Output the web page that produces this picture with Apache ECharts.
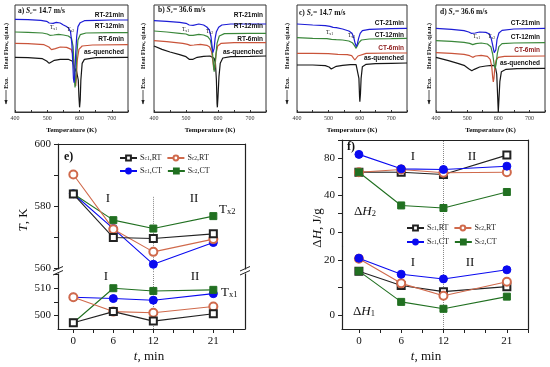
<!DOCTYPE html>
<html><head><meta charset="utf-8">
<script src="https://cdn.jsdelivr.net/npm/echarts@6/dist/echarts.min.js"></script>
<style>html,body{margin:0;padding:0;background:#fff}#c{width:550px;height:367px}</style>
</head><body><div id="c"></div>
<script>
// ---------------- DATA ----------------
// DSC curves: [Temperature K, heat flow (a.u., downward = exo offset scale)]
const a_RT21 = [[400,58],[440,59],[480,61],[498,64],[506,69],[511,72],[518,70],[528,67],[540,69],[550,75],[558,79],[566,84],[572,95],[576,130],[579,190],[581,235],[583,248],[585,225],[588,160],[591,110],[595,80],[602,68],[615,62],[650,61],[700,60],[750,60]];
const a_RT12 = [[400,96],[440,97],[485,99],[500,102],[508,106],[513,108],[520,105],[535,103],[550,105],[565,108],[575,115],[580,140],[583,200],[585,250],[586,262],[588,240],[591,170],[595,120],[602,104],[620,99],[700,98],[750,98]];
const a_RT6 = [[400,130],[440,131],[490,134],[505,141],[513,149],[518,150],[525,146],[540,141],[560,142],[574,148],[580,165],[584,210],[586,245],[588,258],[590,235],[593,180],[598,148],[608,138],[640,135],[750,134]];
const a_AQ = [[400,172],[440,173],[485,176],[498,183],[506,190],[512,188],[522,181],[540,178],[565,178],[578,184],[583,200],[586,215],[589,205],[593,200],[596,240],[598,290],[600,322],[602,300],[604,240],[608,190],[615,178],[650,173],[750,172]];

const b_RT21 = [[400,62],[440,64],[480,67],[500,70],[510,75],[515,78],[522,76],[540,72],[555,75],[565,81],[573,90],[578,110],[581,135],[584,158],[586,160],[588,145],[591,115],[595,95],[602,82],[612,75],[640,72],[700,72],[750,72]];
const b_RT12 = [[400,93],[440,96],[480,100],[500,102],[510,106],[515,108],[522,106],[540,103],[555,105],[568,110],[576,120],[582,150],[586,195],[588,215],[590,210],[593,170],[597,130],[604,108],[620,101],[700,100],[750,100]];
const b_RT6 = [[400,122],[440,125],[490,130],[505,133],[513,136],[518,138],[525,135],[545,133],[565,136],[574,141],[580,155],[584,185],[587,210],[589,216],[591,200],[594,160],[599,138],[610,130],[650,128],[750,128]];
const b_AQ = [[400,138],[425,148],[450,156],[480,164],[500,170],[510,178],[515,182],[522,178],[535,172],[555,169],[575,168],[588,175],[592,190],[595,240],[597,310],[598,322],[600,290],[603,230],[607,190],[615,174],[640,170],[700,169],[750,168]];

const c_CT21 = [[400,72],[450,75],[490,77],[505,79],[515,82],[525,83],[545,87],[565,93],[575,100],[581,114],[585,130],[589,140],[592,132],[596,115],[601,100],[608,92],[630,88],[700,86],[750,85]];
const c_CT12 = [[400,113],[450,115],[495,116],[510,118],[525,119],[545,120],[565,123],[576,128],[583,137],[588,145],[592,139],[597,128],[605,120],[630,117],[700,116],[750,115]];
const c_CT6 = [[400,160],[450,160],[500,161],[530,163],[560,164],[574,167],[580,172],[584,180],[587,183],[590,178],[594,168],[600,162],[620,160],[700,159],[750,159]];
const c_AQ = [[400,195],[450,195],[490,197],[502,201],[509,207],[515,205],[525,199],[545,196],[570,194],[588,194],[594,200],[597,235],[599,290],[600,305],[602,280],[604,235],[608,200],[620,193],[650,191],[700,190],[750,189]];

const d_CT21 = [[400,85],[450,88],[490,92],[505,96],[513,100],[518,102],[526,99],[540,96],[560,97],[572,102],[578,118],[583,140],[587,158],[589,162],[592,150],[596,118],[602,99],[612,91],[650,87],[750,85]];
const d_CT12 = [[400,122],[450,124],[490,127],[508,130],[518,134],[528,131],[545,129],[565,132],[576,140],[582,162],[587,195],[590,205],[593,192],[597,160],[602,140],[612,131],[650,129],[750,128]];
const d_CT6 = [[400,158],[450,160],[490,163],[508,167],[518,172],[527,168],[545,166],[565,169],[574,178],[579,200],[582,232],[584,246],[586,235],[589,202],[593,180],[600,172],[620,169],[750,168]];
const d_AQ = [[400,172],[440,182],[470,190],[490,196],[505,206],[515,212],[523,208],[540,201],[560,198],[580,196],[590,198],[595,222],[598,290],[600,336],[602,300],[605,245],[610,215],[625,208],[660,206],[750,205]];

// panel e/f : annealing time
const tMin = [0, 6, 12, 21];
const tx2_Sc1RT = [583.9, 569.9, 569.6, 571.1];
const tx2_Sc2RT = [590.2, 572.6, 565.3, 569.4];
const tx2_Sc1CT = [584.0, 572.8, 561.3, 568.3];
const tx2_Sc2CT = [584.0, 575.5, 572.8, 576.8];
const tx1_Sc1RT = [497.3, 501.4, 497.9, 500.6];
const tx1_Sc2RT = [506.7, 501.4, 501.0, 503.3];
const tx1_Sc1CT = [506.7, 506.2, 505.6, 508.0];
const tx1_Sc2CT = [497.3, 510.0, 509.0, 509.4];
const dH2_Sc1RT = [65.1, 65.0, 62.5, 83.6];
const dH2_Sc2RT = [65.0, 68.0, 64.4, 65.0];
const dH2_Sc1CT = [84.4, 68.7, 68.0, 71.6];
const dH2_Sc2CT = [65.0, 29.0, 26.2, 43.6];
const dH1_Sc1RT = [15.9, 10.7, 8.5, 10.3];
const dH1_Sc2RT = [20.4, 11.5, 7.0, 12.1];
const dH1_Sc1CT = [20.6, 14.8, 13.1, 16.4];
const dH1_Sc2CT = [15.9, 4.8, 2.3, 6.7];

const tempTicks = [400, 500, 600, 700];
const timeTicks = [0, 6, 12, 21];

// ---------------- STYLE ----------------
const SERIF = '"Liberation Serif","DejaVu Serif",serif';
const SANS = '"Liberation Sans",Arial,sans-serif';
const curveColors = ['#1d1dd6', '#3a873a', '#c9543a', '#161616'];
const sty = {
  'Sc1,RT': {color:'#222', symbol:'emptyRect', size:7},
  'Sc2,RT': {color:'#d06a4c', symbol:'emptyCircle', size:8},
  'Sc1,CT': {color:'#0a0af0', symbol:'circle', size:8},
  'Sc2,CT': {color:'#217021', symbol:'rect', size:7}
};

const grids = [], xAxes = [], yAxes = [], series = [], graphics = [];

function txt(x, y, text, o) {
  o = o || {};
  graphics.push({type:'text', x:x, y:y, rotation:o.rot || 0, z:100, silent:true,
    style:{text:text, fontSize:o.fs || 10, fontFamily:o.ff || SERIF, fontWeight:o.fw || 'normal',
      fontStyle:o.it ? 'italic':'normal', fill:o.color || '#111', align:o.align || 'left',
      verticalAlign:'middle', rich:o.rich || {}}});
}

// ---------------- TOP DSC PANELS ----------------
const topPanels = [
  {grid:{left:15, top:5, width:113, height:107}, curves:[a_RT21,a_RT12,a_RT6,a_AQ], tag:'a', sc:'14.7',
   names:['RT-21min','RT-12min','RT-6min','as-quenched'], lx:124, ly:[15,26,39,52], tx:[[50,28],[67,30]], title:[18,11], yl:6},
  {grid:{left:154, top:5, width:112, height:107}, curves:[b_RT21,b_RT12,b_RT6,b_AQ], tag:'b', sc:'36.6',
   names:['RT-21min','RT-12min','RT-6min','as-quenched'], lx:263, ly:[15,26,39,52], tx:[[182,30],[206,32]], title:[158,10], yl:143},
  {grid:{left:297, top:5, width:110, height:107}, curves:[c_CT21,c_CT12,c_CT6,c_AQ], tag:'c', sc:'14.7',
   names:['CT-21min','CT-12min','CT-6min','as-quenched'], lx:404, ly:[23,35,48,58], tx:[[326,33],[348,36]], title:[299,13], yl:287},
  {grid:{left:436, top:5, width:109, height:107}, curves:[d_CT21,d_CT12,d_CT6,d_AQ], tag:'d', sc:'36.6',
   names:['CT-21min','CT-12min','CT-6min','as-quenched'], lx:540, ly:[23,37,50,63], tx:[[473,37],[488,37]], title:[440,12], yl:429}
];

topPanels.forEach(function(p, i) {
  grids.push(Object.assign({show:true, borderColor:'#333', borderWidth:1}, p.grid));
  xAxes.push({type:'value', gridIndex:i, min:400, max:750, interval:50,
    name:'Temperature (K)', nameLocation:'middle', nameGap:15,
    nameTextStyle:{fontFamily:SERIF, fontWeight:'bold', fontSize:7, color:'#111'},
    axisLine:{show:true, onZero:false, lineStyle:{color:'#333', width:1}},
    axisTick:{show:true, inside:true, length:2, lineStyle:{color:'#333'}},
    axisLabel:{fontSize:6, fontFamily:SERIF, color:'#333', margin:3,
      formatter:function(v){ return tempTicks.indexOf(v) >= 0 ? String(v) : ''; }},
    splitLine:{show:false}});
  yAxes.push({type:'value', gridIndex:i, min:15, max:336, inverse:true, show:false, splitLine:{show:false}});
  for (let k = 3; k >= 0; k--) {
    series.push({type:'line', xAxisIndex:i, yAxisIndex:i, data:p.curves[k], showSymbol:false,
      silent:true, lineStyle:{width:1.2, color:curveColors[k]}, z:2});
  }
  const rich = {b:{fontSize:7.5, fontWeight:'bold', fontFamily:SERIF}, i:{fontSize:7.5, fontWeight:'bold', fontStyle:'italic', fontFamily:SERIF},
    s:{fontSize:5, fontWeight:'bold', fontStyle:'italic', fontFamily:SERIF, verticalAlign:'bottom'}};
  txt(p.title[0], p.title[1], '{b|' + p.tag + ') }{i|S}{s|c}{b|= ' + p.sc + ' m/s}', {rich:rich});
  p.names.forEach(function(nm, k) {
    txt(p.lx, p.ly[k], nm, {ff:SANS, fw:'bold', fs:6.5, align:'right', color:(k === 2 && i >= 2) ? '#8e1b1b' : '#111'});
  });
  const trich = {s:{fontSize:3.8, fontFamily:SERIF, verticalAlign:'bottom'}};
  txt(p.tx[0][0], p.tx[0][1], 'T{s|x1}', {fs:5.5, rich:trich});
  txt(p.tx[1][0], p.tx[1][1], 'T{s|x2}', {fs:5.5, rich:trich});
  txt(p.yl, 46, 'Heat Flow, q(a.u.)', {rot:Math.PI/2, fs:6, fw:'bold', align:'center'});
  txt(p.yl, 83, 'Exo.', {rot:Math.PI/2, fs:6, fw:'bold', align:'center'});
  graphics.push({type:'line', silent:true, shape:{x1:p.yl, y1:90, x2:p.yl, y2:104}, style:{stroke:'#222', lineWidth:0.8}});
  graphics.push({type:'polygon', silent:true, shape:{points:[[p.yl-1.6,100],[p.yl+1.6,100],[p.yl,104.5]]}, style:{fill:'#222'}});
});

// ---------------- BOTTOM PANELS ----------------
function addStack(gUp, gLo, xr, yUp, yLo, sets, order, markUpFrom) {
  const gi = grids.length;
  grids.push(Object.assign({show:false}, gUp));
  grids.push(Object.assign({show:false}, gLo));
  const axisLineStyle = {color:'#222', width:1.2};
  const xi = xAxes.length;
  xAxes.push({type:'value', gridIndex:gi, position:'top', min:xr[0], max:xr[1],
    axisLine:{show:true, onZero:false, lineStyle:axisLineStyle}, axisTick:{show:false}, axisLabel:{show:false}, splitLine:{show:false}});
  xAxes.push({type:'value', gridIndex:gi+1, position:'bottom', min:xr[0], max:xr[1],
    axisLine:{show:true, onZero:false, lineStyle:axisLineStyle},
    axisTick:{show:true, length:4, customValues:[0,3,6,9,12,15,18,21,24], lineStyle:{color:'#222'}},
    axisLabel:{show:true, customValues:timeTicks, fontSize:11, fontFamily:SERIF, color:'#111', margin:7},
    splitLine:{show:false}});
  const yi = yAxes.length;
  [[gi, yUp], [gi+1, yLo]].forEach(function(g) {
    yAxes.push({type:'value', gridIndex:g[0], position:'left', min:g[1].min, max:g[1].max,
      axisLine:{show:true, onZero:false, lineStyle:axisLineStyle},
      axisTick:{show:true, length:4, customValues:g[1].ticks, lineStyle:{color:'#222'}},
      axisLabel:{show:true, customValues:g[1].labels, fontSize:11, fontFamily:SERIF, color:'#111', margin:7},
      splitLine:{show:false}});
    yAxes.push({type:'value', gridIndex:g[0], position:'right', min:g[1].min, max:g[1].max,
      axisLine:{show:true, onZero:false, lineStyle:axisLineStyle}, axisTick:{show:false}, axisLabel:{show:false}, splitLine:{show:false}});
  });
  const dotted = {type:'dotted', color:'#888', width:1};
  [0, 1].forEach(function(part) {
    order.forEach(function(nm, n) {
      const vals = sets[part][nm];
      const st = sty[nm];
      const s = {type:'line', name:nm, xAxisIndex:xi + part, yAxisIndex:yi + part*2,
        data:tMin.map(function(t, j){ return [t, vals[j]]; }),
        symbol:st.symbol, symbolSize:st.size, showAllSymbol:true,
        lineStyle:{width:1.1, color:st.color},
        itemStyle:{color:st.color, borderColor:st.color, borderWidth:1}, z:3 + n};
      if (n === 0) {
        s.markLine = {silent:true, symbol:['none','none'], label:{show:false}, lineStyle:dotted, z:1,
          data: (part === 0 && markUpFrom !== null)
            ? [[{coord:[12, markUpFrom]}, {coord:[12, yUp.min]}]]
            : [{xAxis:12}]};
      }
      series.push(s);
    });
  });
}

// panel e
addStack({left:58, top:144, width:187, height:129}, {left:58, top:273, width:187, height:56},
  [-2.3, 25.75],
  {min:558.5, max:600, ticks:[560,570,580,590,600], labels:[560,580,600]},
  {min:495, max:515.6, ticks:[500,505,510,515], labels:[500,510]},
  [{'Sc1,RT':tx2_Sc1RT,'Sc2,RT':tx2_Sc2RT,'Sc1,CT':tx2_Sc1CT,'Sc2,CT':tx2_Sc2CT},
   {'Sc1,RT':tx1_Sc1RT,'Sc2,RT':tx1_Sc2RT,'Sc1,CT':tx1_Sc1CT,'Sc2,CT':tx1_Sc2CT}],
  ['Sc1,CT','Sc2,CT','Sc2,RT','Sc1,RT'], 583);

// panel f
addStack({left:342, top:140, width:186, height:106}, {left:342, top:246, width:186, height:83},
  [-2.4, 24],
  {min:-15, max:100, ticks:[0,20,40,60,80,100], labels:[0,40,80]},
  {min:-5, max:25, ticks:[0,10,20], labels:[0,20]},
  [{'Sc1,RT':dH2_Sc1RT,'Sc2,RT':dH2_Sc2RT,'Sc1,CT':dH2_Sc1CT,'Sc2,CT':dH2_Sc2CT},
   {'Sc1,RT':dH1_Sc1RT,'Sc2,RT':dH1_Sc2RT,'Sc1,CT':dH1_Sc1CT,'Sc2,CT':dH1_Sc2CT}],
  ['Sc1,RT','Sc2,RT','Sc1,CT','Sc2,CT'], null);

// break marks on panel e
[58, 245].forEach(function(x) {
  graphics.push({type:'rect', silent:true, z:90, shape:{x:x-3, y:269.5, width:6, height:4}, style:{fill:'#fff'}});
  graphics.push({type:'line', silent:true, z:91, shape:{x1:x-5, y1:271, x2:x+5, y2:266.5}, style:{stroke:'#222', lineWidth:1}});
  graphics.push({type:'line', silent:true, z:91, shape:{x1:x-5, y1:275, x2:x+5, y2:270.5}, style:{stroke:'#222', lineWidth:1}});
});

// texts panel e / f
const R = {i:{fontStyle:'italic', fontSize:13, fontFamily:SERIF}, n:{fontSize:13, fontFamily:SERIF},
  s:{fontSize:8.5, fontFamily:SERIF, verticalAlign:'bottom'}, si:{fontSize:8.5, fontFamily:SERIF, verticalAlign:'bottom', fontStyle:'italic'}};
txt(64, 157, 'e)', {fs:12, fw:'bold'});
txt(108, 199, 'I', {fs:13, align:'center'});
txt(194, 199, 'II', {fs:13, align:'center'});
txt(219, 210, '{n|T}{s|x2}', {rich:R});
txt(106, 277, 'I', {fs:13, align:'center'});
txt(195, 277, 'II', {fs:13, align:'center'});
txt(221, 293, '{n|T}{s|x1}', {rich:R});
txt(24, 220, '{i|T}{n|, K}', {rot:Math.PI/2, align:'center', rich:R});
txt(149, 357, '{i|t}{n|, min}', {align:'center', rich:R});

txt(347, 147, 'f)', {fs:12, fw:'bold'});
txt(413, 157, 'I', {fs:13, align:'center'});
txt(472, 157, 'II', {fs:13, align:'center'});
txt(354, 212, '{n|Δ}{i|H}{s|2}', {rich:R});
txt(413, 263, 'I', {fs:13, align:'center'});
txt(470, 263, 'II', {fs:13, align:'center'});
txt(353, 312, '{n|Δ}{i|H}{s|1}', {rich:R});
txt(318, 228, '{n|Δ}{i|H}{n|, J/g}', {rot:Math.PI/2, align:'center', rich:R});
txt(426, 357, '{i|t}{n|, min}', {align:'center', rich:R});

// ---------------- LEGENDS ----------------
const legendLabel = {'Sc1,RT':'S{s|c1},RT', 'Sc2,RT':'S{s|c2},RT', 'Sc1,CT':'S{s|c1},CT', 'Sc2,CT':'S{s|c2},CT'};
function lg(names, left, top) {
  return {data:names, left:left, top:top, orient:'horizontal', itemWidth:17, itemHeight:6, itemGap:5,
    selectedMode:false, padding:0,
    formatter:function(n){ return legendLabel[n]; },
    textStyle:{fontSize:8, fontFamily:SERIF, color:'#222', padding:[0,0,0,-2],
      rich:{s:{fontSize:5.5, fontFamily:SERIF, color:'#222', verticalAlign:'bottom'}}}};
}

const option = {
  animation:false,
  backgroundColor:'#fff',
  grid:grids, xAxis:xAxes, yAxis:yAxes, series:series,
  legend:[lg(['Sc1,RT','Sc2,RT'],119,154), lg(['Sc1,CT','Sc2,CT'],119,167),
          lg(['Sc1,RT','Sc2,RT'],406,224), lg(['Sc1,CT','Sc2,CT'],406,238)],
  graphic:graphics
};
const chart = echarts.init(document.getElementById('c'));
chart.setOption(option);
</script></body></html>
